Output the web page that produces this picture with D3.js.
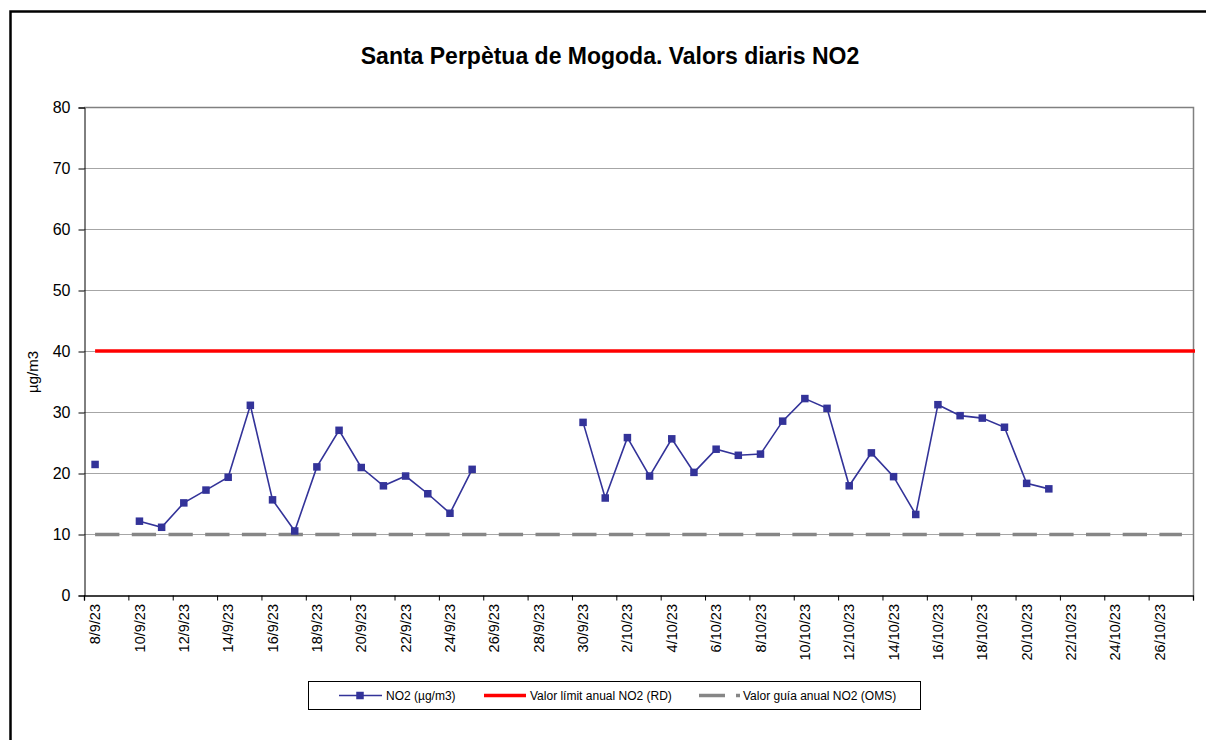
<!DOCTYPE html>
<html>
<head>
<meta charset="utf-8">
<script src="https://cdn.jsdelivr.net/npm/d3@7"></script>
<style>
  body { margin: 0; background: #fff; overflow: hidden; }
  svg { display: block; font-family: "Liberation Sans", Arial, sans-serif; }
</style>
</head>
<body>
<div id="chart"></div>
<script>
var dates = [
  "8/9/23","9/9/23","10/9/23","11/9/23","12/9/23","13/9/23","14/9/23","15/9/23","16/9/23","17/9/23",
  "18/9/23","19/9/23","20/9/23","21/9/23","22/9/23","23/9/23","24/9/23","25/9/23","26/9/23","27/9/23",
  "28/9/23","29/9/23","30/9/23","1/10/23","2/10/23","3/10/23","4/10/23","5/10/23","6/10/23","7/10/23",
  "8/10/23","9/10/23","10/10/23","11/10/23","12/10/23","13/10/23","14/10/23","15/10/23","16/10/23","17/10/23",
  "18/10/23","19/10/23","20/10/23","21/10/23","22/10/23","23/10/23","24/10/23","25/10/23","26/10/23","27/10/23"
];

var no2 = [
  21.4, null, 12.1, 11.1, 15.1, 17.2, 19.3, 31.1, 15.6, 10.5,
  21.0, 27.0, 20.9, 17.9, 19.5, 16.6, 13.4, 20.6, null, null,
  null, null, 28.3, 15.9, 25.8, 19.5, 25.6, 20.1, 23.9, 22.9,
  23.1, 28.5, 32.2, 30.6, 17.9, 23.3, 19.4, 13.2, 31.2, 29.4,
  29.0, 27.5, 18.3, 17.4, null, null, null, null, null, null
];

var limitRD = 40;
var guideOMS = 10;
var yTicks = [0, 10, 20, 30, 40, 50, 60, 70, 80];

var W = 1206, H = 740;
var pLeft = 84, pRight = 1193, pTop = 107, pBottom = 595;

var svg = d3.select("#chart").append("svg").attr("width", W).attr("height", H);

// chart border: only top and left edges are inside the picture
svg.append("path")
  .attr("d", "M10.5," + H + "V11.5H" + W)
  .attr("fill", "none").attr("stroke", "#000").attr("stroke-width", 2.5);

svg.append("text")
  .attr("x", 610).attr("y", 64)
  .attr("text-anchor", "middle")
  .style("font-size", "23px").style("font-weight", "bold")
  .text("Santa Perpètua de Mogoda. Valors diaris NO2");

var x = d3.scaleLinear().domain([0, dates.length]).range([pLeft, pRight]);
var y = d3.scaleLinear().domain([0, 80]).range([pBottom, pTop]);
var cx = function(i) { return x(i + 0.5); };

// gridlines
svg.append("g").selectAll("line")
  .data(yTicks.filter(function(d) { return d > 0 && d < 80; }))
  .enter().append("line")
  .attr("x1", pLeft).attr("x2", pRight)
  .attr("y1", function(d) { return y(d) + 0.5; })
  .attr("y2", function(d) { return y(d) + 0.5; })
  .attr("stroke", "#a6a6a6").attr("stroke-width", 1);

// plot border (top/right)
svg.append("path")
  .attr("d", "M" + pLeft + "," + (y(80) + 0.5) + "H" + (pRight + 0.5) + "V" + pBottom)
  .attr("fill", "none").attr("stroke", "#808080").attr("stroke-width", 1.5);

// y axis
var yAxis = d3.axisLeft(y).tickValues(yTicks).tickSize(6).tickPadding(8);
var yg = svg.append("g").attr("transform", "translate(" + (pLeft + 0.5) + ",0.5)").call(yAxis);
yg.select(".domain").attr("stroke", "#000");
yg.selectAll(".tick line").attr("stroke", "#000");
yg.selectAll("text").style("font-size", "16px").style("font-family", "Liberation Sans, Arial, sans-serif").attr("fill", "#000");

svg.append("text")
  .attr("transform", "translate(38,372) rotate(-90)")
  .attr("text-anchor", "middle")
  .style("font-size", "15px")
  .text("µg/m3");

// x axis
var xAxis = d3.axisBottom(x).tickValues(d3.range(0, dates.length + 1, 2)).tickSize(5).tickFormat("");
var xg = svg.append("g").attr("transform", "translate(0," + (pBottom + 0.5) + ")").call(xAxis);
xg.select(".domain").attr("stroke", "#000").attr("stroke-width", 1.3);
xg.selectAll(".tick line").attr("stroke", "#000");

svg.append("g").selectAll("text")
  .data(dates.filter(function(d, i) { return i % 2 === 0; }))
  .enter().append("text")
  .attr("transform", function(d, i) { return "translate(" + cx(i * 2) + "," + (pBottom + 9) + ") rotate(-90)"; })
  .attr("text-anchor", "end")
  .attr("dy", "0.35em")
  .style("font-size", "14.5px")
  .text(function(d) { return d; });

// OMS guide (dashed grey)
svg.append("line")
  .attr("x1", cx(0)).attr("x2", cx(dates.length - 1))
  .attr("y1", y(guideOMS) + 0.5).attr("y2", y(guideOMS) + 0.5)
  .attr("stroke", "#868686").attr("stroke-width", 3.3)
  .attr("stroke-dasharray", "24.3,12.4");

// RD limit (red)
svg.append("line")
  .attr("x1", cx(0)).attr("x2", pRight + 2)
  .attr("y1", y(limitRD)).attr("y2", y(limitRD))
  .attr("stroke", "#ff0000").attr("stroke-width", 3.4);

// NO2 series
var line = d3.line()
  .defined(function(d) { return d != null; })
  .x(function(d, i) { return cx(i); })
  .y(function(d) { return y(d); });

svg.append("path")
  .datum(no2)
  .attr("d", line)
  .attr("fill", "none").attr("stroke", "#333399").attr("stroke-width", 1.6);

var ms = 7.5;
svg.append("g").selectAll("rect")
  .data(no2.map(function(v, i) { return { v: v, i: i }; }).filter(function(d) { return d.v != null; }))
  .enter().append("rect")
  .attr("x", function(d) { return cx(d.i) - ms / 2; })
  .attr("y", function(d) { return y(d.v) - ms / 2; })
  .attr("width", ms).attr("height", ms)
  .attr("fill", "#333399");

// legend
var lg = svg.append("g");
lg.append("rect")
  .attr("x", 308.5).attr("y", 681.5).attr("width", 612).attr("height", 28)
  .attr("fill", "#fff").attr("stroke", "#000").attr("stroke-width", 1);

var ly = 695.5;
lg.append("line").attr("x1", 339).attr("x2", 382).attr("y1", ly).attr("y2", ly)
  .attr("stroke", "#333399").attr("stroke-width", 1.6);
lg.append("rect").attr("x", 360 - ms / 2).attr("y", ly - ms / 2).attr("width", ms).attr("height", ms)
  .attr("fill", "#333399");
lg.append("text").attr("x", 386).attr("y", ly).attr("dy", "0.35em")
  .style("font-size", "12px").text("NO2 (µg/m3)");

lg.append("line").attr("x1", 484).attr("x2", 526).attr("y1", ly).attr("y2", ly)
  .attr("stroke", "#ff0000").attr("stroke-width", 3.4);
lg.append("text").attr("x", 530).attr("y", ly).attr("dy", "0.35em")
  .style("font-size", "12px").text("Valor límit anual NO2 (RD)");

lg.append("line").attr("x1", 699).attr("x2", 740).attr("y1", ly).attr("y2", ly)
  .attr("stroke", "#868686").attr("stroke-width", 3.3).attr("stroke-dasharray", "26,11");
lg.append("text").attr("x", 743).attr("y", ly).attr("dy", "0.35em")
  .style("font-size", "12px").text("Valor guía anual NO2 (OMS)");
</script>
</body>
</html>
